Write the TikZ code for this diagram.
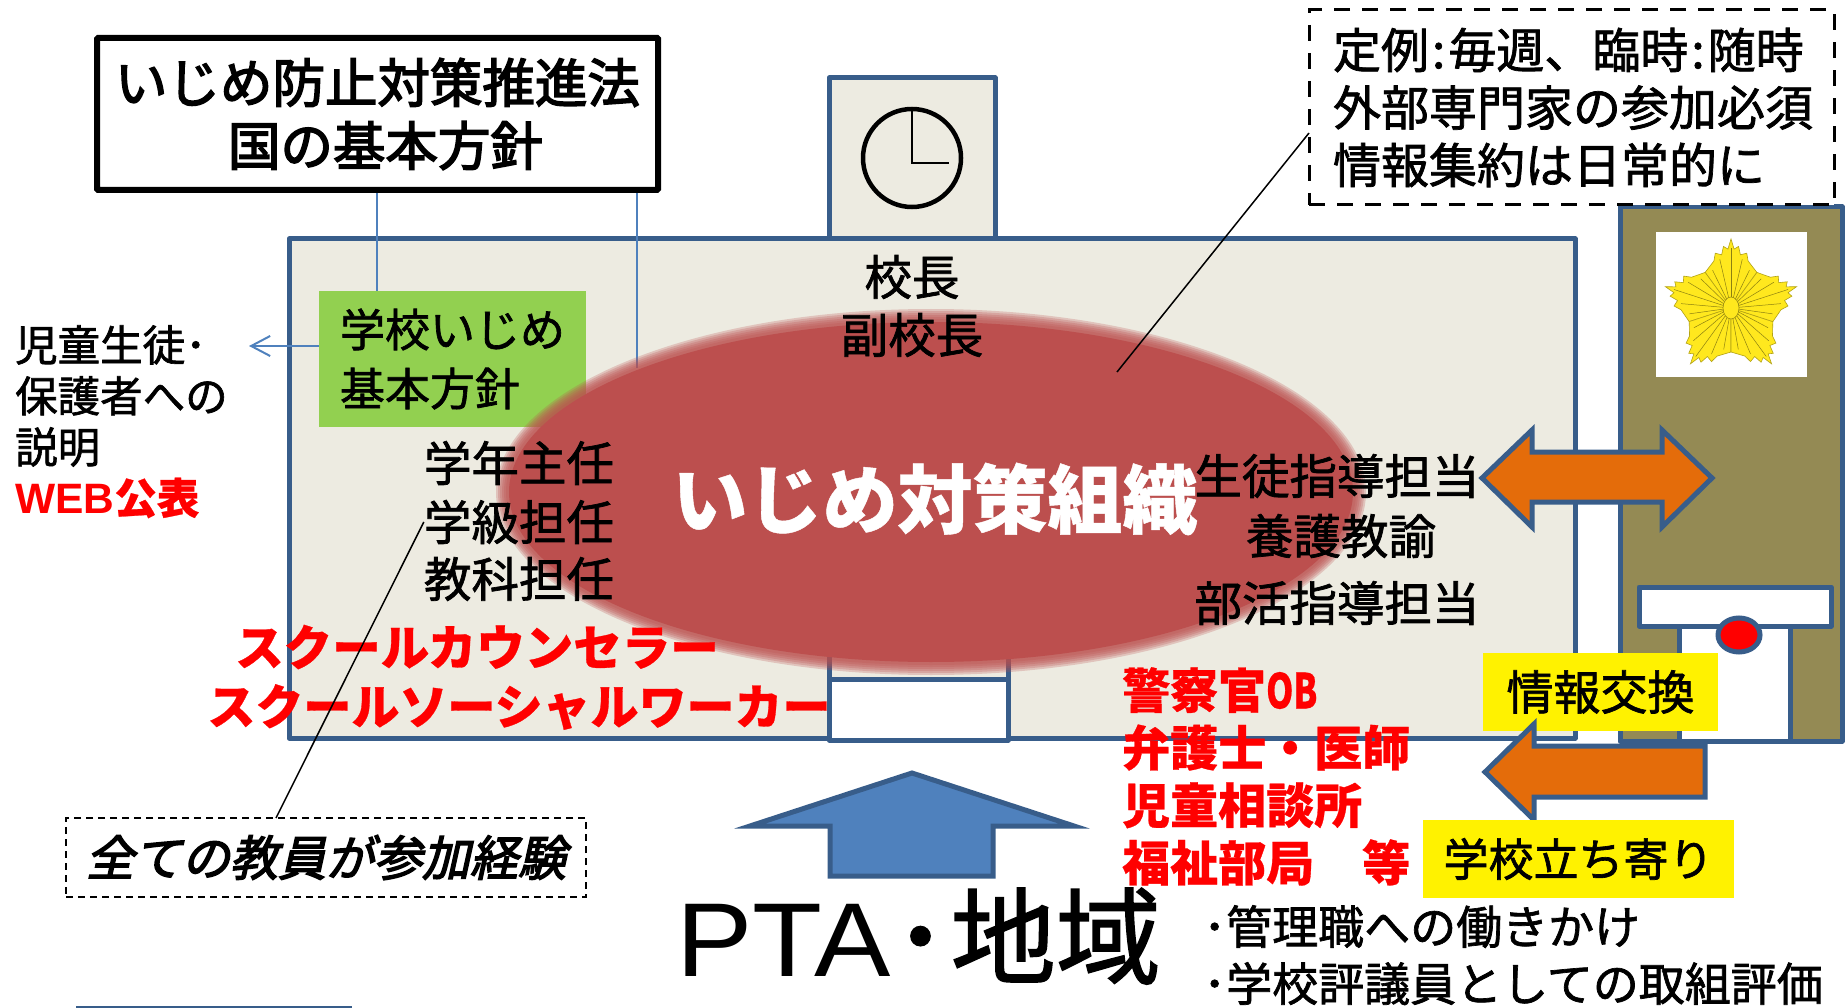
\documentclass[tikz,border=0pt]{standalone}
\usepackage{fontspec}
\usepackage{xcolor}
\setmainfont[UprightFeatures={FakeBold=1.5}, BoldFeatures={FakeBold=0.6}]{Noto Sans CJK JP}
\newfontfamily\latinfont{Liberation Sans}
\newfontfamily\heavyfont[FakeBold=3]{Noto Sans CJK JP}
\newfontfamily\slantfont[FakeSlant=0.22,FakeBold=3]{Noto Sans CJK JP}
\definecolor{frameblue}{RGB}{56, 93, 138}
\definecolor{linkblue}{RGB}{79, 129, 189}
\definecolor{schoolcream}{RGB}{237, 235, 225}
\definecolor{policeolive}{RGB}{148, 138, 84}
\definecolor{planggreen}{RGB}{146, 208, 80}
\definecolor{boardred}{RGB}{188, 79, 78}
\definecolor{arroworange}{RGB}{228, 108, 10}
\definecolor{badgeyellow}{RGB}{255, 232, 30}
\usetikzlibrary{arrows.meta, positioning, shapes.geometric}
\tikzset{
    jplabel/.style={inner sep=0pt, font=\fontsize{47.5}{58}\selectfont, align=center},
    redlabel/.style={jplabel, text=red, font=\fontsize{48}{58}\selectfont\bfseries},
    buildingbox/.style={draw=frameblue, line width=5pt, line join=round},
    bigarrow/.style={draw=frameblue, line width=5pt, line join=miter, miter limit=20},
    yellowbox/.style={fill=yellow, inner sep=0pt, font=\fontsize{47}{58}\selectfont},
    linkline/.style={draw=linkblue, line width=2pt},
    noteline/.style={draw=black, line width=1.5pt},
}

\begin{document}
\begin{tikzpicture}[x=1pt, y=-1pt]
    \useasboundingbox (0,0) rectangle (1845,1008);

    % school building
    \draw[buildingbox, fill=schoolcream] (829,78) rectangle (995,239);
    \draw[buildingbox, fill=schoolcream] (289,239) rectangle (1575,738);
    \draw[buildingbox, fill=schoolcream] (829,620) rectangle (1008,679);
    \draw[buildingbox, fill=white] (829,679) rectangle (1008,740);
    \draw[draw=black, line width=4.5pt] (912,158) circle [radius=49pt];
    \draw[noteline] (912,110) -- (912,163) -- (949,163);

    % police station
    \draw[buildingbox, fill=policeolive] (1620,207) rectangle (1842,741);
    \fill[white] (1656,232) rectangle (1807,377);
    \begin{scope}[shift={(1731,308)}]
        \foreach \a in {90,162,234,306,378} {
            \fill[badgeyellow, draw=badgeyellow!70!black, line width=0.6pt]
                (0,0) -- (\a-36:44pt) -- (\a-20:50pt) -- (\a-16:57pt) -- (\a-10:54pt)
                -- (\a-7:62pt) -- (\a-3:59pt) -- (\a:69pt) -- (\a+3:59pt) -- (\a+7:62pt)
                -- (\a+10:54pt) -- (\a+16:57pt) -- (\a+20:50pt) -- (\a+36:44pt) -- cycle;
            \foreach \b/\r in {-26/42,-13/50,0/60,13/50,26/42}
                \draw[badgeyellow!55!black, line width=0.5pt] (0,0) -- (\a+\b:\r pt);
        }
        \fill[badgeyellow, draw=badgeyellow!60!black, line width=0.6pt] (0,0) ellipse [x radius=8pt, y radius=11pt];
    \end{scope}
    \draw[buildingbox, fill=white] (1679,620) rectangle (1790,741);
    \draw[buildingbox, fill=white] (1639,587) rectangle (1831,626);
    \draw[draw=frameblue, fill=red, line width=5pt] (1739,635) ellipse [x radius=21pt, y radius=17pt];

    % law box and the school policy
    \node[draw=black, fill=white, line width=6pt, rounded corners=1pt, minimum width=561pt, minimum height=152pt,
          inner sep=0pt, align=center, font=\fontsize{52.5}{63}\selectfont\heavyfont] (houbox) at (377.5,114)
          {いじめ防止対策推進法\\\hspace*{16pt}国の基本方針};
    \coordinate (linkA) at (377,291);
    \coordinate (linkB) at (637,368);
    \draw[linkline] (houbox.south -| linkA) -- (linkA);
    \draw[linkline] (houbox.south -| linkB) -- (linkB);
    \node[fill=planggreen, minimum width=267pt, minimum height=136pt, inner sep=0pt, font=\fontsize{45}{59}\selectfont,
          align=left] (hoshin) at (452.5,359) {学校いじめ\\基本方針};
    \coordinate (setsumeiEnd) at (249,346);
    \draw[linkline, -{Straight Barb[length=19pt, width=20pt]}] (hoshin.west |- setsumeiEnd) -- (setsumeiEnd);
    \node[jplabel, anchor=north west, align=left, font=\fontsize{42.5}{51}\selectfont] (setsumei) at (15,325)
          {児童生徒･\\保護者への\\説明\\{\color{red}\bfseries{\latinfont WEB}公表}};

    % soft edge of the board
    \foreach \grow in {7,5,3,1,-1,-3}
        \fill[boardred, opacity=0.25] (931,492) ellipse [x radius={(428+\grow)*1pt}, y radius={(176+\grow)*1pt}];
    \node[ellipse, fill=boardred, minimum width=844pt, minimum height=340pt, inner sep=0pt] (taisaku) at (931,492) {};
    \node[inner sep=0pt, text=white, font=\fontsize{75}{80}\selectfont\bfseries] (taisakuName) at (935,499) {いじめ対策組織};

    % staff
    \node[jplabel] (kocho) at (912,306) {校長\\副校長};
    \node[jplabel] (gakunen) at (519,463) {学年主任};
    \node[jplabel] (gakkyu) at (519,522) {学級担任};
    \node[jplabel] (kyoka) at (519,579) {教科担任};
    \node[jplabel] (shido) at (1337,476) {生徒指導担当};
    \node[jplabel] (yogo) at (1341,536) {養護教諭};
    \node[jplabel] (bukatsu) at (1337,603) {部活指導担当};
    \node[redlabel, font=\fontsize{48.5}{58}\selectfont\bfseries] (counselor) at (477,647) {スクールカウンセラー};
    \node[redlabel] (worker) at (519,707) {スクールソーシャルワーカー};
    \node[redlabel, anchor=north west, align=left, font=\fontsize{48}{57.5}\selectfont\bfseries] (senmon) at (1122,667)
          {警察官\scalebox{0.72}[1]{OB}\\弁護士・医師\\児童相談所\\福祉部局　等};

    % note boxes
    \node[draw=black, fill=white, line width=3pt, dash pattern=on 16pt off 12pt, minimum width=525pt, minimum height=195pt,
          inner sep=0pt, text width=477pt, align=left, font=\fontsize{48}{57.5}\selectfont] (teirei) at (1571.5,107.5)
          {定例\hspace{3pt}:\hspace{3pt}毎週、臨時\hspace{3pt}:\hspace{3pt}随時\\外部専門家の参加必須\\情報集約は日常的に};
    \coordinate (teireiLeft) at (1309,133);
    \coordinate (teireiEnd) at (1117,372);
    \draw[noteline] (teireiLeft) -- (teireiEnd);
    \node[draw=black, fill=white, line width=2pt, dash pattern=on 7pt off 5pt, minimum width=520pt, minimum height=79pt,
          inner sep=0pt, font=\fontsize{48}{58}\selectfont\slantfont] (zenin) at (326,857.5) {全ての教員が参加経験};
    \coordinate (zeninTop) at (276,818);
    \draw[noteline] (zeninTop) -- (gakkyu.west);

    % arrows and exchange labels
    \path[bigarrow, fill=arroworange] (1482,478) -- (1532,430) -- (1532,452) -- (1662,452) -- (1662,430) -- (1712,478)
        -- (1662,527) -- (1662,502) -- (1532,502) -- (1532,527) -- cycle;
    \node[yellowbox, minimum width=235pt, minimum height=78pt] (koukan) at (1600.5,692) {情報交換};
    \path[bigarrow, fill=arroworange] (1485,772) -- (1534,724) -- (1534,746) -- (1705,746) -- (1705,797) -- (1534,797)
        -- (1534,820) -- cycle;
    \node[yellowbox, minimum width=311pt, minimum height=78pt, font=\fontsize{45}{58}\selectfont] (tachiyori) at (1578.5,859) {学校立ち寄り};
    \path[bigarrow, fill=linkblue] (912,773) -- (1074,826) -- (993,826) -- (993,876) -- (830,876) -- (830,826) -- (750,826) -- cycle;

    % community
    \node[inner sep=0pt, anchor=base west, font=\fontsize{105}{110}\selectfont] (chiiki) at (676,976)
          {{\latinfont\scalebox{1.09}[1]{PTA}}\hspace{4pt}{\heavyfont ･}\hspace{4pt}地域};
    \node[jplabel, anchor=north west, align=left, font=\fontsize{46}{57}\selectfont] (katsudo) at (1203,905)
          {･管理職への働きかけ\\･学校評議員としての取組評価};
    \draw[draw=frameblue, line width=3pt] (76,1007) -- (352,1007);
\end{tikzpicture}
\end{document}
